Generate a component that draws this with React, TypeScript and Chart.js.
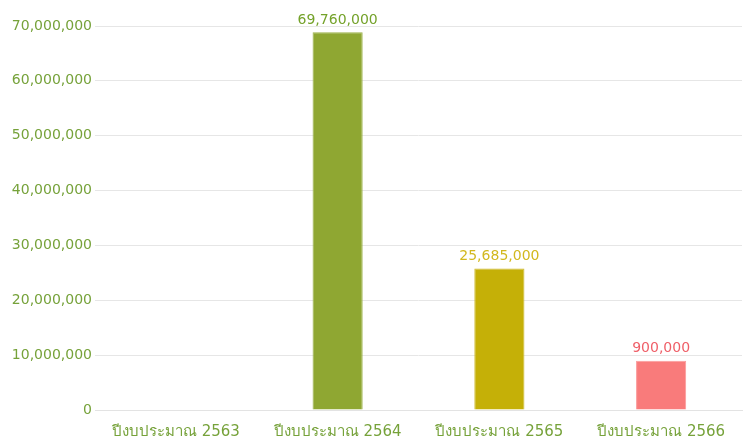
import React, { useEffect, useRef } from "react";
import { Chart, registerables } from "chart.js";

Chart.register(...registerables);

const categories = ["ปีงบประมาณ 2563", "ปีงบประมาณ 2564", "ปีงบประมาณ 2565", "ปีงบประมาณ 2566"];
const barValues = [0, 68850000, 25800000, 9000000];
const valueLabels = ["", "69,760,000", "25,685,000", "900,000"];
const barColors = ["#8fa732", "#8fa732", "#c5b007", "#f97b7b"];
const borderColors = ["#9cb24a", "#9cb24a", "#cdb92a", "#fb9a9a"];
const labelColors = ["#74a22a", "#74a22a", "#d2b81e", "#ef5f68"];
const yTicks = [0, 10000000, 20000000, 30000000, 40000000, 50000000, 60000000, 70000000];

const FONT = "Tahoma, 'DejaVu Sans', 'Noto Sans', sans-serif";

const labelPlugin = {
  id: "valueLabels",
  afterDatasetsDraw(chart: any) {
    const ctx = chart.ctx;
    const meta = chart.getDatasetMeta(0);
    ctx.save();
    ctx.font = `14px ${FONT}`;
    ctx.textAlign = "center";
    ctx.textBaseline = "bottom";
    meta.data.forEach((bar: any, i: number) => {
      const t = valueLabels[i];
      if (!t) return;
      ctx.fillStyle = labelColors[i];
      ctx.fillText(t, bar.x, bar.y - 5);
    });
    ctx.restore();
  },
};

export default function App() {
  const ref = useRef<HTMLCanvasElement>(null);
  useEffect(() => {
    if (!ref.current) return;
    const chart = new Chart(ref.current, {
      type: "bar",
      data: {
        labels: categories,
        datasets: [
          {
            data: barValues,
            backgroundColor: barColors,
            borderColor: borderColors,
            borderWidth: 1,
            barPercentage: 0.31,
            categoryPercentage: 1,
          },
        ],
      },
      options: {
        responsive: false,
        animation: false,
        layout: { padding: { left: 0, right: 5, top: 26, bottom: 0 } },
        plugins: { legend: { display: false }, tooltip: { enabled: false } },
        scales: {
          x: {
            grid: { display: false, drawTicks: false },
            border: { color: "#e3e3e3", width: 1 },
            afterFit(axis: any) {
              axis.height = 32;
            },
            ticks: { color: "#76a23a", font: { size: 15, family: FONT }, padding: 13 },
          },
          y: {
            min: 0,
            max: 70000000,
            afterBuildTicks(axis: any) {
              axis.ticks = yTicks.map((v) => ({ value: v }));
            },
            afterFit(axis: any) {
              axis.width = 95;
            },
            grid: { color: "#e6e6e6", drawTicks: false },
            border: { display: false },
            ticks: {
              color: "#76a23a",
              font: { size: 14, family: FONT },
              padding: 3,
              callback: (v: any) => Number(v).toLocaleString("en-US"),
            },
          },
        },
      },
      plugins: [labelPlugin],
    });
    return () => chart.destroy();
  }, []);
  return (
    <div style={{ position: "fixed", left: 0, top: 0, width: 747, height: 442, background: "#fff" }}>
      <canvas ref={ref} width={747} height={442} />
    </div>
  );
}
